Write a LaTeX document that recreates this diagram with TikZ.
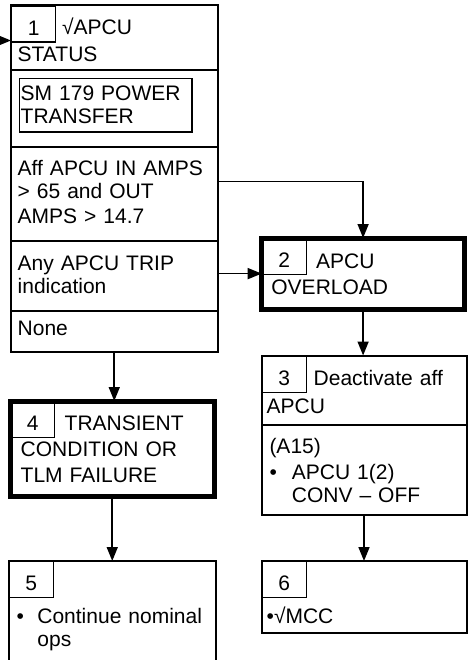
\documentclass[tikz,border=0pt]{standalone}
\usepackage{fontspec}
\setmainfont{Liberation Sans}
\usetikzlibrary{arrows.meta, positioning}
\tikzset{
  part/.style={
    draw=black,
    line width=2bp,
    inner sep=0pt,
    outer sep=0pt,
    anchor=north west
  },
  heavy/.style={part, line width=5bp},
  numbox/.style={
    draw=black,
    line width=1.2bp,
    inner sep=0pt,
    anchor=north west,
    minimum width=44bp,
    minimum height=36bp,
    text height=22bp,
    text depth=0pt,
    font=\fontsize{21bp}{24bp}\selectfont
  },
  txt/.style={
    inner sep=0pt,
    anchor=base west,
    align=left,
    text width=196bp,
    font=\fontsize{21bp}{24bp}\selectfont
  },
  arrow/.style={-{Triangle[length=14bp, width=11bp]}, line width=1.6bp, draw=black}
}

\begin{document}
\begin{tikzpicture}[x=1bp, y=-1bp]

\useasboundingbox (0,0) rectangle (468,660);
\clip (0,0) rectangle (468,660);

% box 1
\node[part, minimum width=206.5bp, minimum height=65bp] (head1) at (11,5.5) {};
\node[part, minimum width=206.5bp, minimum height=76.3bp, below=0pt of head1] (power) {};
\node[part, minimum width=206.5bp, minimum height=94.4bp, below=0pt of power] (aff) {};
\node[part, minimum width=206.5bp, minimum height=70bp, below=0pt of aff] (trip) {};
\node[part, minimum width=206.5bp, minimum height=40.8bp, below=0pt of trip] (none) {};
\node[part, line width=1.6bp, minimum width=172.5bp, minimum height=53bp] (smbox) at (19.5,78.7) {};
\node[numbox] (n1) at (head1.north west) {1};
\node[txt] (t1) at (17.5,34.3) {\hspace*{44.5bp}√APCU\\[3.4bp]STATUS};
\node[txt] (tsm) at (20.5,101) {SM 179 POWER\\[-1.7bp]TRANSFER};
\node[txt] (taff) at (17.5,175.7) {Aff APCU IN AMPS\\[-1.4bp]> 65 and OUT\\[1bp]AMPS > 14.7};
\node[txt] (ttrip) at (17.5,270) {Any APCU TRIP\\[-0.7bp]indication};
\node[txt] (tnone) at (17.5,335) {None};

% box 2
\node[heavy, minimum width=202.8bp, minimum height=71.5bp] (ovl) at (261.7,238) {};
\node[numbox] (n2) at (ovl.north west) {2};
\node[txt] (t2) at (271.2,268.3) {\hspace*{44.8bp}APCU\\[2bp]OVERLOAD};

% box 3
\node[part, minimum width=205bp, minimum height=69.5bp] (head3) at (261.5,355.5) {};
\node[part, minimum width=205bp, minimum height=89.5bp, below=0pt of head3] (body3) {};
\node[numbox] (n3) at (head3.north west) {3};
\node[txt] (t3) at (266.5,385) {\hspace*{47bp}Deactivate aff\\[4.3bp]APCU};
\node[txt] (t3b) at (269.3,453.3) {(A15)\\[1.7bp]\makebox[22.4bp][l]{•}APCU 1(2)\\[-0.3bp]\hspace*{22.4bp}CONV – OFF};

% box 4
\node[heavy, minimum width=204.5bp, minimum height=95bp] (trans) at (10,401) {};
\node[numbox] (n4) at (trans.north west) {4};
\node[txt] (t4) at (20.5,430.7) {\hspace*{44bp}TRANSIENT\\[2bp]CONDITION OR\\[1.6bp]TLM FAILURE};

% box 5
\node[part, minimum width=206.8bp, minimum height=140bp] (cont) at (8.7,561) {};
\node[numbox] (n5) at (cont.north west) {5};
\node[txt] (t5) at (16.5,623.3) {\makebox[20.7bp][l]{•}Continue nominal\\[-0.6bp]\hspace*{20.7bp}ops};

% box 6
\node[part, minimum width=205bp, minimum height=72bp] (mcc) at (261.5,561) {};
\node[numbox] (n6) at (mcc.north west) {6};
\node[txt] (t6) at (266.5,623.3) {•√MCC};

% connectors
\coordinate (entry) at (0,40.5);
\draw[arrow] (entry) -- (entry -| head1.west);
\draw[arrow] ([yshift=12.5bp]aff.east) -| (ovl.north);
\draw[arrow] ([yshift=2.6bp]trip.east) -- ([yshift=2.6bp]trip.east -| ovl.west);
\draw[arrow] (ovl.south) -- (ovl.south |- head3.north);
\draw[arrow] (body3.south) -- (body3.south |- mcc.north);
\draw[arrow] (none.south) -- (none.south |- trans.north);
\draw[arrow] (trans.south) -- (trans.south |- cont.north);

\end{tikzpicture}
\end{document}
